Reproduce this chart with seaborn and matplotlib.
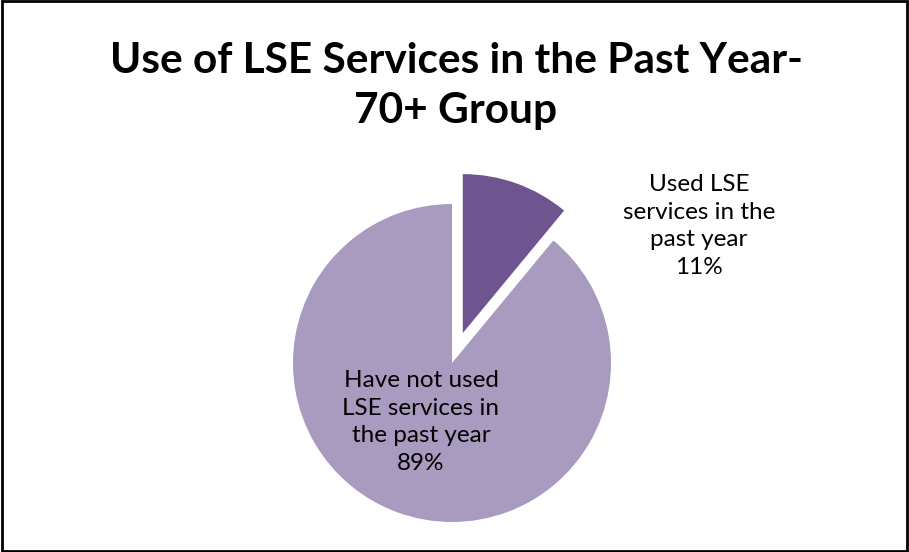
import matplotlib
matplotlib.use("Agg")
import matplotlib.pyplot as plt
import seaborn as sns

sns.set_theme(style="white")
plt.rcParams["font.family"] = ["Lato", "DejaVu Sans"]

title = "Use of LSE Services in the Past Year-\n70+ Group"
categories = ["Used LSE\nservices in the\npast year", "Have not used\nLSE services in\nthe past year"]
shares = [11, 89]
colors = ["#6E5590", "#A99ABF"]

W, H = 909, 552
fig = plt.figure(figsize=(W / 100, H / 100), dpi=100)
ax = fig.add_axes([0, 0, 1, 1])

# pie centre and radius in pixels
cx, cy, r = 452, 363, 159
ax.pie(shares, colors=colors, startangle=90, counterclock=False,
       explode=[0.2, 0], radius=1, wedgeprops=dict(linewidth=0))
ax.set_xlim(-cx / r, (W - cx) / r)
ax.set_ylim((cy - H) / r, cy / r)
ax.set_aspect("auto")
ax.axis("off")

def px(x, y):
    return (x - cx) / r, (cy - y) / r

lx, ly = px(699, 226)
ax.text(lx, ly, f"{categories[0]}\n{shares[0]}%", ha="center", va="center",
        fontsize=17.5, linespacing=1.38, color="black")
lx, ly = px(421, 422)
ax.text(lx, ly, f"{categories[1]}\n{shares[1]}%", ha="center", va="center",
        fontsize=17.5, linespacing=1.38, color="black")

# two-line title; the anchor is the baseline of the second line
fig.text(456 / W, 1 - 123 / H, title, ha="center", va="baseline",
         fontsize=30.5, fontweight="bold", linespacing=1.4, color="black")

# chart frame
fig.patches.append(plt.Rectangle((0.002, 0.002), 0.996, 0.996, transform=fig.transFigure,
                                 fill=False, edgecolor="black", linewidth=2))

fig.savefig("out.png", dpi=100)
